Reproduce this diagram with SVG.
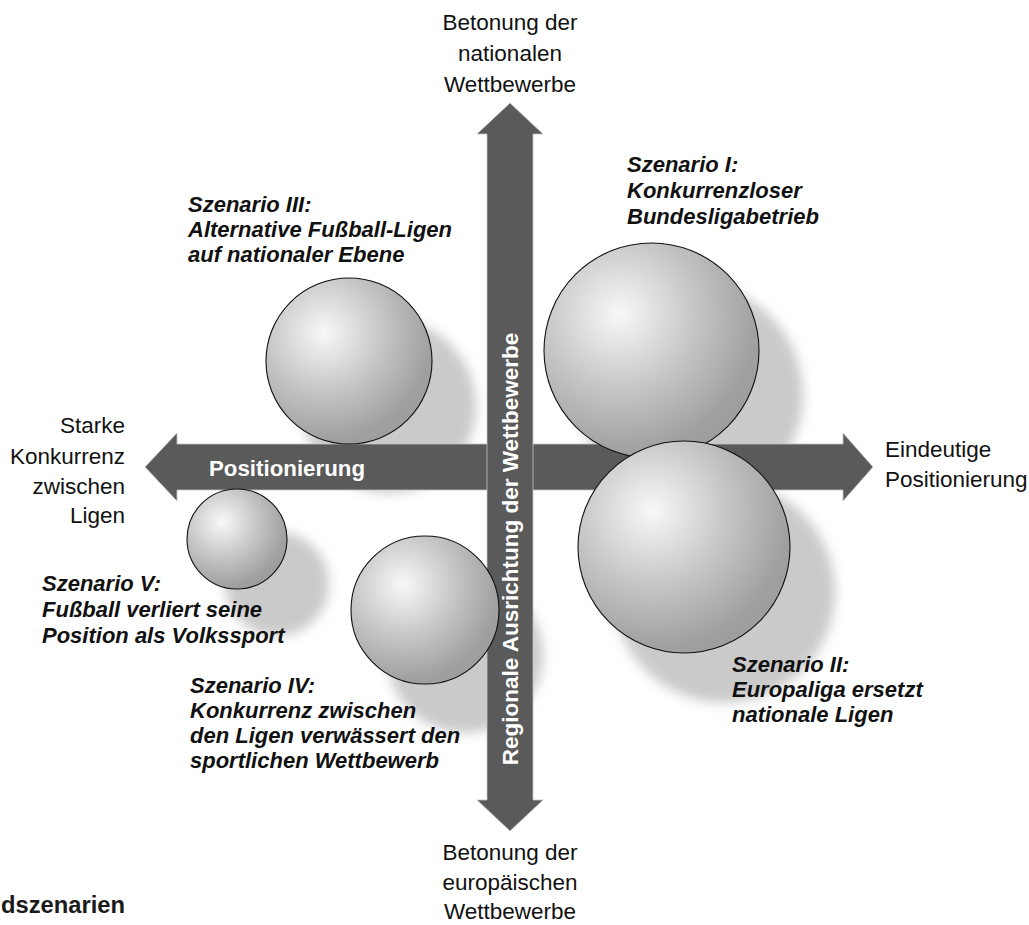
<svg xmlns="http://www.w3.org/2000/svg" width="1029" height="925" viewBox="0 0 1029 925">
  <style>
    .axis { font-family: "Liberation Sans", Arial, sans-serif; font-size: 22.5px; fill: #111; }
    .scen { font-family: "Liberation Sans", Arial, sans-serif; font-size: 22px; font-weight: bold; font-style: italic; fill: #111; }
    .onarrow { font-family: "Liberation Sans", Arial, sans-serif; font-size: 22.5px; font-weight: bold; fill: #fff; }
    .arrow { fill: #5a5a5a; stroke: #c4c4c4; stroke-width: 0.8; }
    .sphere { fill: url(#ball); stroke: #111; stroke-width: 1.1; }
    .shadow { fill: #cacaca; filter: url(#blur); }
  </style>
  <defs>
    <radialGradient id="ball" cx="0.35" cy="0.33" fx="0.35" fy="0.33" r="0.7">
      <stop offset="0" stop-color="#f8f8f8"/>
      <stop offset="0.5" stop-color="#c6c6c6"/>
      <stop offset="0.92" stop-color="#a0a0a0"/>
      <stop offset="1" stop-color="#9e9e9e"/>
    </radialGradient>
    <filter id="blur" x="-30%" y="-30%" width="160%" height="160%">
      <feGaussianBlur stdDeviation="6"/>
    </filter>
  </defs>
  <rect width="1029" height="925" fill="#fff"/>

  <g id="shadows">
    <circle class="shadow" cx="691" cy="395" r="112"/>
    <circle class="shadow" cx="389" cy="406" r="87"/>
    <circle class="shadow" cx="277" cy="584" r="52"/>
    <circle class="shadow" cx="465" cy="655" r="78"/>
    <circle class="shadow" cx="724" cy="592" r="111"/>
  </g>

  <g id="connectors">
    <path id="axis-horizontal" class="arrow" d="M145,467 L177,433 L177,444 L843,444 L843,433 L873,467 L843,501 L843,490 L177,490 L177,501 Z"/>
    <path id="axis-vertical" class="arrow" d="M510,103 L543,134 L533,134 L533,800 L543,800 L510,831 L477,800 L487,800 L487,134 L477,134 Z"/>
    <text class="onarrow" x="209" y="476" textLength="156" lengthAdjust="spacingAndGlyphs">Positionierung</text>
    <text class="onarrow" text-anchor="middle" transform="translate(518,549) rotate(-90)">Regionale Ausrichtung der Wettbewerbe</text>
  </g>

  <g id="node-scenario-1">
    <circle class="sphere" cx="651.5" cy="350.5" r="107.5"/>
    <text class="scen"><tspan x="627" y="172">Szenario I:</tspan><tspan x="627" y="198">Konkurrenzloser</tspan><tspan x="627" y="224">Bundesligabetrieb</tspan></text>
  </g>
  <g id="node-scenario-2">
    <circle class="sphere" cx="684" cy="547" r="106"/>
    <text class="scen"><tspan x="732" y="672">Szenario II:</tspan><tspan x="732" y="697">Europaliga ersetzt</tspan><tspan x="732" y="722">nationale Ligen</tspan></text>
  </g>
  <g id="node-scenario-3">
    <circle class="sphere" cx="349" cy="361" r="83"/>
    <text class="scen"><tspan x="188" y="212">Szenario III:</tspan><tspan x="188" y="237">Alternative Fußball-Ligen</tspan><tspan x="188" y="262">auf nationaler Ebene</tspan></text>
  </g>
  <g id="node-scenario-4">
    <circle class="sphere" cx="425" cy="610" r="74"/>
    <text class="scen"><tspan x="190" y="693">Szenario IV:</tspan><tspan x="190" y="718">Konkurrenz zwischen</tspan><tspan x="190" y="743">den Ligen verwässert den</tspan><tspan x="190" y="768">sportlichen Wettbewerb</tspan></text>
  </g>
  <g id="node-scenario-5">
    <circle class="sphere" cx="237" cy="539" r="50"/>
    <text class="scen"><tspan x="42" y="591">Szenario V:</tspan><tspan x="42" y="617">Fußball verliert seine</tspan><tspan x="42" y="643">Position als Volkssport</tspan></text>
  </g>

  <g id="axis-labels">
    <text class="axis" text-anchor="middle"><tspan x="510" y="30">Betonung der</tspan><tspan x="510" y="61">nationalen</tspan><tspan x="510" y="92">Wettbewerbe</tspan></text>
    <text class="axis" text-anchor="middle"><tspan x="510" y="860">Betonung der</tspan><tspan x="510" y="890">europäischen</tspan><tspan x="510" y="919">Wettbewerbe</tspan></text>
    <text class="axis" text-anchor="end"><tspan x="125" y="433">Starke</tspan><tspan x="125" y="464">Konkurrenz</tspan><tspan x="125" y="494">zwischen</tspan><tspan x="125" y="523">Ligen</tspan></text>
    <text class="axis"><tspan x="885" y="457">Eindeutige</tspan><tspan x="885" y="487">Positionierung</tspan></text>
  </g>

  <text id="caption" x="1" y="913" font-family="'Liberation Sans', Arial, sans-serif" font-size="23" font-weight="bold" fill="#1a1a1a" textLength="124" lengthAdjust="spacingAndGlyphs">dszenarien</text>
</svg>
